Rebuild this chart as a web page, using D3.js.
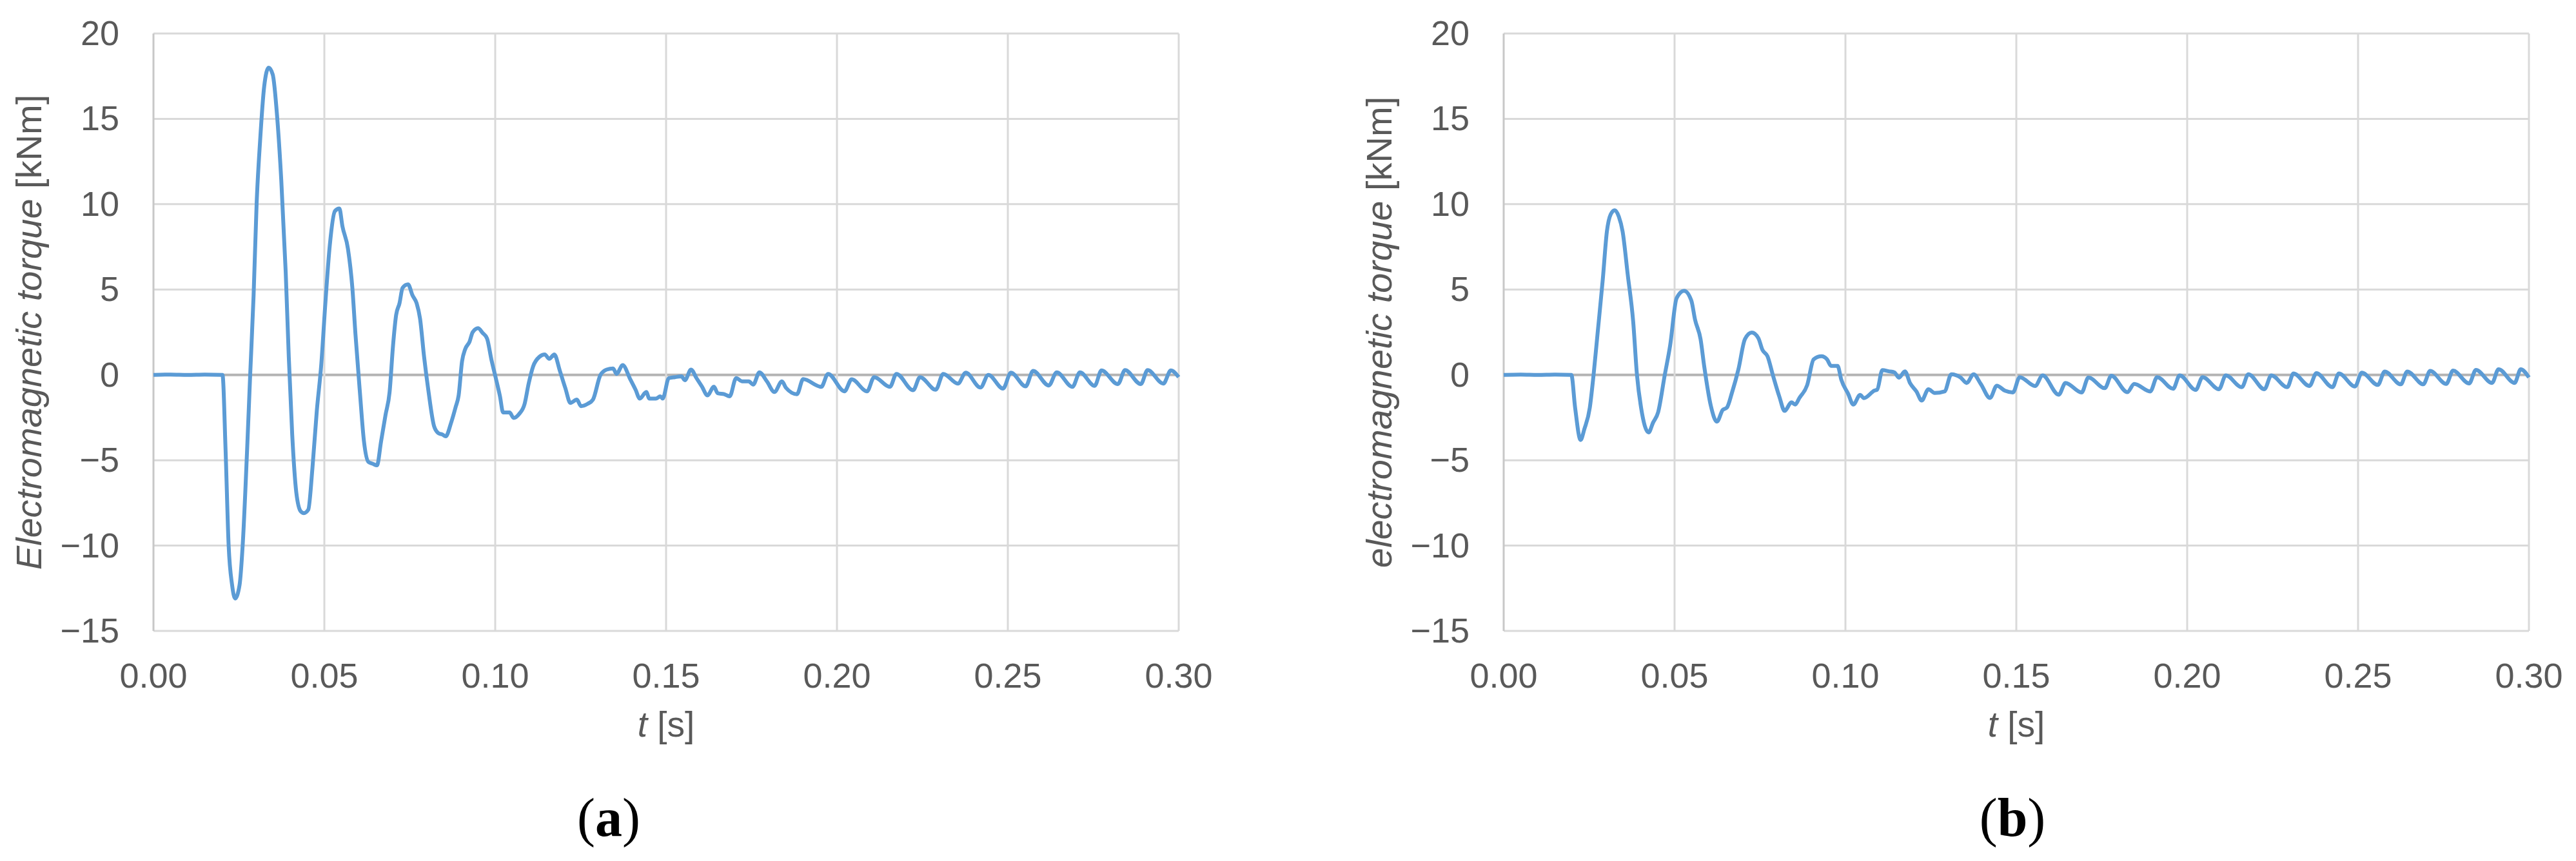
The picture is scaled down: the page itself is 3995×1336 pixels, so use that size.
<!DOCTYPE html>
<html>
<head>
<meta charset="utf-8">
<script src="https://cdn.jsdelivr.net/npm/d3@7"></script>
<style>
  body { margin: 0; background: #fff; }
  text { font-family: "Liberation Sans", Arial, sans-serif; fill: #595959; }
</style>
</head>
<body>
<script>
// ticks
var xTicks = [0, 0.05, 0.10, 0.15, 0.20, 0.25, 0.30];
var yTicks = [-15, -10, -5, 0, 5, 10, 15, 20];

// (a) electromagnetic torque
var timeA = [0, 0.005, 0.01, 0.015, 0.0202,
  0.0211, 0.022, 0.023, 0.0239, 0.0252, 0.0261, 0.0274, 0.0283, 0.0293, 0.0302,
  0.0312, 0.0324, 0.0337, 0.0349, 0.0362, 0.0374, 0.0387, 0.0396, 0.0406, 0.0418,
  0.0431, 0.044, 0.0453, 0.0465, 0.0478, 0.0491, 0.0503, 0.0516, 0.0531, 0.0544,
  0.0553, 0.0569, 0.0582, 0.0591, 0.0604, 0.0616, 0.0629, 0.0641, 0.0654, 0.0666,
  0.0679, 0.0691, 0.0701, 0.071, 0.072, 0.0729, 0.0745, 0.0758, 0.077, 0.078,
  0.0792, 0.0805, 0.0821, 0.0833, 0.0846, 0.0855, 0.0871, 0.0884, 0.0893, 0.0903,
  0.0912, 0.0925, 0.0934, 0.095, 0.0963, 0.0976, 0.0989, 0.1001, 0.1014, 0.1023,
  0.1042, 0.1054, 0.107, 0.1086, 0.1098, 0.1111, 0.113, 0.1145, 0.1158, 0.1173,
  0.1189, 0.1205, 0.122, 0.1239, 0.1251, 0.127, 0.1286, 0.1308, 0.1326, 0.1345,
  0.1355, 0.1373, 0.1395, 0.1411, 0.1423, 0.1442, 0.1451, 0.147, 0.1483, 0.149,
  0.1508, 0.1526, 0.1545, 0.1555, 0.1573, 0.1589, 0.1605, 0.1621, 0.164, 0.1651,
  0.167, 0.1686, 0.1705, 0.1723, 0.1742, 0.1755, 0.1773, 0.1795, 0.1817, 0.1839,
  0.1851, 0.1883, 0.1901, 0.1954, 0.1974, 0.2022, 0.2043, 0.2088, 0.2109, 0.2155,
  0.2174, 0.2223, 0.2243, 0.2289, 0.2311, 0.2354, 0.2377, 0.242, 0.2443, 0.2486,
  0.2509, 0.2552, 0.2574, 0.262, 0.2643, 0.2689, 0.2711, 0.2754, 0.2774, 0.2822,
  0.2843, 0.2889, 0.2909, 0.2955, 0.2977, 0.30];
var torqueA = [0, 0.02, 0, 0.02, 0,
  -4.4, -10.0, -12.3, -13.1, -12.3, -10.0, -4.4, 0, 4.66, 10.1,
  13.7, 16.9, 18.0, 17.6, 15.1, 11.4, 6.0, 1.04, -3.5, -6.9,
  -8.0, -8.1, -7.9, -5.5, -2.1, 0.6, 4.2, 7.6, 9.6, 9.75,
  8.7, 7.4, 5.1, 2.4, -1.0, -3.9, -5.1, -5.2, -5.3, -3.9,
  -2.35, -1.0, 1.72, 3.5, 4.2, 5.1, 5.3, 4.66, 4.2, 3.3,
  1.04, -1.0, -3.0, -3.4, -3.5, -3.6, -2.8, -1.9, -1.2, 0.8,
  1.5, 1.95, 2.5, 2.74, 2.46, 2.14, 0.88, -0.13, -1.26, -2.2,
  -2.2, -2.52, -2.29, -1.7, -0.5, 0.5, 1.07, 1.2, 0.94, 1.2,
  0.25, -0.76, -1.64, -1.45, -1.83, -1.7, -1.45, 0, 0.31, 0.38,
  0.06, 0.57, -0.25, -0.88, -1.39, -1.0, -1.39, -1.39, -1.26, -1.39,
  -0.19, -0.13, -0.09, -0.31, 0.31, -0.19, -0.69, -1.2, -0.69, -1.07,
  -1.13, -1.26, -0.19, -0.38, -0.38, -0.57, 0.15, -0.38, -1.0, -0.38,
  -0.76, -1.13, -0.25, -0.7, 0.06, -0.96, -0.26, -0.96, -0.13, -0.7,
  0.06, -0.9, -0.13, -0.87, 0.06, -0.51, 0.13, -0.74, 0, -0.8,
  0.13, -0.67, 0.23, -0.62, 0.15, -0.7, 0.15, -0.64, 0.26, -0.54,
  0.28, -0.54, 0.28, -0.51, 0.26, -0.13];

// (b) electromagnetic torque
var timeB = [0, 0.005, 0.01, 0.015, 0.0198,
  0.0209, 0.0225, 0.0236, 0.0252, 0.0263, 0.0275, 0.029, 0.0302, 0.0313, 0.0325,
  0.0337, 0.0348, 0.0363, 0.0379, 0.039, 0.0402, 0.0424, 0.0437, 0.0452, 0.0471,
  0.0487, 0.0506, 0.0528, 0.0549, 0.056, 0.0576, 0.0587, 0.0606, 0.0624, 0.0641,
  0.0653, 0.0668, 0.0687, 0.0706, 0.0726, 0.0745, 0.0757, 0.0772, 0.0788, 0.0807,
  0.0822, 0.0842, 0.0853, 0.0865, 0.0888, 0.0907, 0.093, 0.0946, 0.0958, 0.0977,
  0.0988, 0.1008, 0.1023, 0.1043, 0.1054, 0.1085, 0.1093, 0.1108, 0.1127, 0.1143,
  0.1157, 0.1174, 0.1189, 0.1208, 0.1223, 0.1243, 0.1261, 0.129, 0.131, 0.1337,
  0.1355, 0.1375, 0.1396, 0.1423, 0.1443, 0.1467, 0.149, 0.151, 0.1555, 0.1577,
  0.1624, 0.1644, 0.1691, 0.1711, 0.1759, 0.1778, 0.1825, 0.1845, 0.1892, 0.1912,
  0.1959, 0.1978, 0.2025, 0.2045, 0.2093, 0.2113, 0.216, 0.2179, 0.2226, 0.2246,
  0.2293, 0.2311, 0.2358, 0.2378, 0.2425, 0.2444, 0.2491, 0.2511, 0.2558, 0.2578,
  0.2625, 0.2644, 0.2691, 0.2711, 0.2758, 0.2778, 0.2825, 0.2845, 0.2892, 0.2911,
  0.2958, 0.2976, 0.30];
var torqueB = [0, 0.02, 0, 0.02, 0,
  -1.92, -3.81, -3.18, -1.92, 0, 2.48, 5.6, 8.4, 9.4, 9.65,
  9.27, 8.4, 5.87, 3.1, 0, -1.92, -3.37, -2.8, -2.18, -0.04,
  1.72, 4.5, 4.93, 4.36, 3.23, 2.1, 0.47, -1.8, -2.74, -2.05,
  -1.92, -1.04, 0.34, 2.1, 2.48, 2.16, 1.47, 1.09, -0.04, -1.3,
  -2.11, -1.61, -1.74, -1.36, -0.6, 0.91, 1.09, 0.91, 0.53, 0.53,
  -0.29, -1.11, -1.74, -1.17, -1.36, -0.92, -0.86, 0.28, 0.21, 0.15,
  -0.16, 0.21, -0.48, -0.98, -1.5, -0.84, -1.06, -0.97, 0.04, -0.15,
  -0.47, 0.04, -0.53, -1.35, -0.63, -0.93, -1.03, -0.13, -0.65, -0.03,
  -1.16, -0.47, -1.03, -0.15, -0.78, -0.05, -1.01, -0.53, -0.97, -0.13,
  -0.81, -0.03, -0.88, -0.13, -0.84, -0.03, -0.72, 0.04, -0.84, -0.03,
  -0.72, 0.08, -0.65, 0.1, -0.72, 0.08, -0.68, 0.13, -0.59, 0.2,
  -0.55, 0.2, -0.55, 0.23, -0.53, 0.25, -0.5, 0.29, -0.47, 0.33,
  -0.47, 0.33, -0.15];

var width = 3995;
var height = 1336;

var svg = d3.select('body').append('svg')
  .attr('width', width)
  .attr('height', height);

svg.append('rect').attr('width', width).attr('height', height).attr('fill', '#fff');

function drawPanel(left, times, values, yTitle, caption, captionX) {
  var x = d3.scaleLinear().domain([0, 0.30]).range([left, left + 1590]);
  var y = d3.scaleLinear().domain([-15, 20]).range([979, 52]);
  var g = svg.append('g');

  // gridlines
  g.selectAll('.hgrid').data(yTicks).enter().append('line')
    .attr('x1', x(0)).attr('x2', x(0.30))
    .attr('y1', function(d) { return y(d); })
    .attr('y2', function(d) { return y(d); })
    .attr('stroke', function(d) { return d === 0 ? '#b4b4b4' : '#d9d9d9'; })
    .attr('stroke-width', function(d) { return d === 0 ? 4 : 3; });

  g.selectAll('.vgrid').data(xTicks).enter().append('line')
    .attr('x1', function(d) { return x(d); })
    .attr('x2', function(d) { return x(d); })
    .attr('y1', y(20)).attr('y2', y(-15))
    .attr('stroke', function(d) { return d === 0 ? '#c8c8c8' : '#d9d9d9'; })
    .attr('stroke-width', 3);

  // tick labels
  g.selectAll('.ylab').data(yTicks).enter().append('text')
    .attr('x', left - 53)
    .attr('y', function(d) { return y(d) + 18; })
    .attr('text-anchor', 'end')
    .attr('font-size', 54)
    .text(function(d) { return d < 0 ? '\u2212' + Math.abs(d) : d; });

  g.selectAll('.xlab').data(xTicks).enter().append('text')
    .attr('x', function(d) { return x(d); })
    .attr('y', 1067)
    .attr('text-anchor', 'middle')
    .attr('font-size', 54)
    .text(function(d) { return d3.format('.2f')(d); });

  // axis titles
  var xt = g.append('text')
    .attr('x', x(0.15)).attr('y', 1143)
    .attr('text-anchor', 'middle')
    .attr('font-size', 55);
  xt.append('tspan').attr('font-style', 'italic').text('t');
  xt.append('tspan').text(' [s]');

  var yt = g.append('text')
    .attr('transform', 'translate(' + (left - 174) + ',' + y(2.5) + ') rotate(-90)')
    .attr('text-anchor', 'middle')
    .attr('font-size', 56);
  yt.append('tspan').attr('font-style', 'italic').text(yTitle);
  yt.append('tspan').text(' [kNm]');

  // the curve
  var pts = times.map(function(t, i) { return [t, values[i]]; });
  var line = d3.line()
    .x(function(d) { return x(d[0]); })
    .y(function(d) { return y(d[1]); })
    .curve(d3.curveMonotoneX);

  g.append('path')
    .datum(pts)
    .attr('d', line)
    .attr('fill', 'none')
    .attr('stroke', '#5b9bd5')
    .attr('stroke-width', 6)
    .attr('stroke-linejoin', 'round');

  var cap = svg.append('text')
    .attr('x', captionX).attr('y', 1297)
    .attr('text-anchor', 'middle')
    .attr('font-size', 84)
    .style('font-family', '"Liberation Serif", "Times New Roman", serif')
    .style('fill', '#000');
  cap.append('tspan').text('(');
  cap.append('tspan').attr('font-weight', 'bold').text(caption);
  cap.append('tspan').text(')');
}

drawPanel(238, timeA, torqueA, 'Electromagnetic torque', 'a', 944);
drawPanel(2332, timeB, torqueB, 'electromagnetic torque', 'b', 3121);
</script>
</body>
</html>
